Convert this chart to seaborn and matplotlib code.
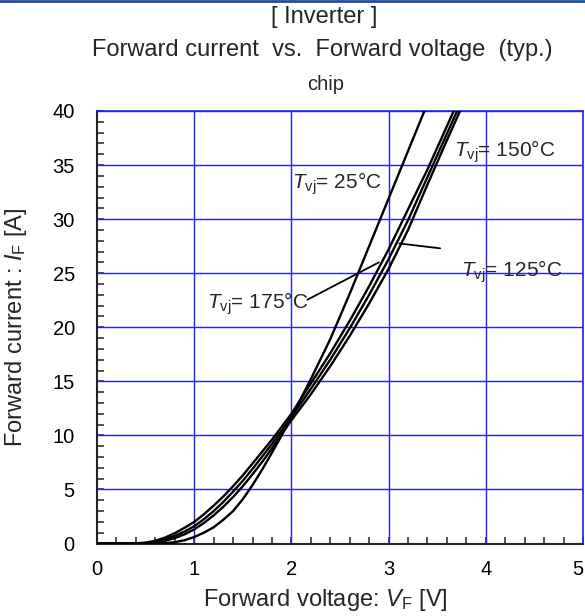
import numpy as np
import pandas as pd
import matplotlib
matplotlib.use("Agg")
import matplotlib.pyplot as plt
from matplotlib.lines import Line2D
from matplotlib.ticker import MultipleLocator
import seaborn as sns

# ---- data ----
voltage = [0, 0.2, 0.3, 0.4, 0.5, 0.6, 0.7, 0.8, 0.9, 1.0, 1.1, 1.2, 1.3, 1.4, 1.5,
           1.6, 1.7, 1.8, 1.9, 2.0, 2.2, 2.4, 2.6, 2.8, 3.0, 3.2, 3.4, 3.6, 3.8]
current_25 = [0, 0, 0, 0, 0, 0.01, 0.03, 0.12, 0.3, 0.6, 1.0, 1.5, 2.2, 3.0, 4.1,
              5.4, 6.85, 8.4, 10.0, 11.7, 15.2, 18.9, 23.1, 27.5, 31.9, 36.3, 40.7, 45.1, 49.5]
current_125 = [0, 0, 0, 0, 0.02, 0.08, 0.25, 0.5, 0.85, 1.3, 1.9, 2.6, 3.4, 4.3, 5.3,
               6.4, 7.55, 8.8, 10.1, 11.4, 13.8, 16.4, 19.2, 22.2, 25.4, 29.0, 33.2, 37.3, 41.3]
current_150 = [0, 0, 0, 0.01, 0.04, 0.15, 0.38, 0.7, 1.1, 1.6, 2.25, 3.0, 3.85, 4.8, 5.8,
               6.9, 8.05, 9.2, 10.45, 11.7, 14.3, 17.0, 19.9, 23.0, 26.3, 29.9, 33.9, 37.9, 41.9]
current_175 = [0, 0, 0.01, 0.02, 0.08, 0.25, 0.55, 0.95, 1.45, 2.0, 2.7, 3.5, 4.35, 5.3, 6.3,
               7.4, 8.5, 9.6, 10.8, 12.0, 14.8, 17.6, 20.6, 23.8, 27.2, 30.9, 34.6, 38.6, 42.6]
temperatures = ["25", "125", "150", "175"]
x_ticks = [0, 1, 2, 3, 4, 5]
y_ticks = [0, 5, 10, 15, 20, 25, 30, 35, 40]

frames = []
for t, cur in zip(temperatures, [current_25, current_125, current_150, current_175]):
    frames.append(pd.DataFrame({"V": voltage, "I": cur, "T": t}))
df = pd.concat(frames, ignore_index=True)

sns.set_theme(style="white")
plt.rcParams["font.family"] = ["Liberation Sans", "DejaVu Sans"]
plt.rcParams["mathtext.fontset"] = "custom"
plt.rcParams["mathtext.rm"] = "Liberation Sans"
plt.rcParams["mathtext.it"] = "Liberation Sans:italic"

fig = plt.figure(figsize=(5.85, 6.16), dpi=100)
ax = fig.add_axes([97 / 585, 1 - 543.5 / 616, 486 / 585, (543.5 - 111) / 616])

grid_c = "#2323e6"
for v in x_ticks[1:]:
    ax.axvline(v, color=grid_c, lw=1.0, zorder=1)
for i in y_ticks[1:]:
    ax.axhline(i, color=grid_c, lw=1.0, zorder=1)

sns.lineplot(data=df, x="V", y="I", units="T", estimator=None, color="black",
             lw=1.7, ax=ax, zorder=3, sort=False)

ax.set_xlim(0, 5)
ax.set_ylim(0, 40)
ax.set_xticks(x_ticks)
ax.set_yticks(y_ticks)
ax.xaxis.set_minor_locator(MultipleLocator(0.2))
ax.yaxis.set_minor_locator(MultipleLocator(1))
ax.tick_params(which="both", direction="in", colors="#333333", labelcolor="black",
               width=1.2, top=False, right=False, bottom=True, left=True)
ax.tick_params(which="major", length=5, labelsize=14.5)
ax.tick_params(axis="x", which="major", pad=12)
ax.tick_params(axis="y", which="major", pad=16)
ax.tick_params(which="minor", length=5)
# keep the last x tick label inside the figure, as in the reference
ax.get_xticklabels()[-1].set_horizontalalignment("right")

for s in ["left", "bottom"]:
    ax.spines[s].set_color("#222222")
    ax.spines[s].set_linewidth(1.5)
for s in ["top", "right"]:
    ax.spines[s].set_color(grid_c)
    ax.spines[s].set_linewidth(1.2)

ax.set_xlabel(r"Forward voltage: $\mathit{V}_{\mathrm{F}}$ [V]", fontsize=17)
ax.xaxis.set_label_coords(0.47, -0.1)
ax.set_ylabel(r"Forward current : $\mathit{I}_{\mathrm{F}}$ [A]", fontsize=17)
ax.yaxis.set_label_coords(-0.14, 0.5)

fs = 15
ax.text(2.01, 33.3, r"$\mathit{T}_{\mathrm{vj}}$= 25°C", fontsize=fs, va="center", ha="left", zorder=5)
ax.text(3.67, 36.2, r"$\mathit{T}_{\mathrm{vj}}$= 150°C", fontsize=fs, va="center", ha="left", zorder=5)
ax.text(3.74, 25.1, r"$\mathit{T}_{\mathrm{vj}}$= 125°C", fontsize=fs, va="center", ha="left", zorder=5)
ax.text(1.13, 22.2, r"$\mathit{T}_{\mathrm{vj}}$= 175°C", fontsize=fs, va="center", ha="left", zorder=5)
ax.plot([2.165, 2.90], [22.55, 26.0], color="black", lw=1.3, zorder=4)
ax.plot([3.11, 3.53], [27.75, 27.3], color="black", lw=1.3, zorder=4)

fig.text(324 / 585, 1 - 17 / 616, "[ Inverter ]", ha="center", va="center", fontsize=17)
fig.text(322 / 585, 1 - 50 / 616, "Forward current  vs.  Forward voltage  (typ.)",
         ha="center", va="center", fontsize=17)
fig.text(326 / 585, 1 - 85 / 616, "chip", ha="center", va="center", fontsize=14.5)
fig.add_artist(Line2D([0, 1], [0.999, 0.999], transform=fig.transFigure,
                      color="#1f4f9c", lw=2))

fig.savefig("out.png", dpi=100)
